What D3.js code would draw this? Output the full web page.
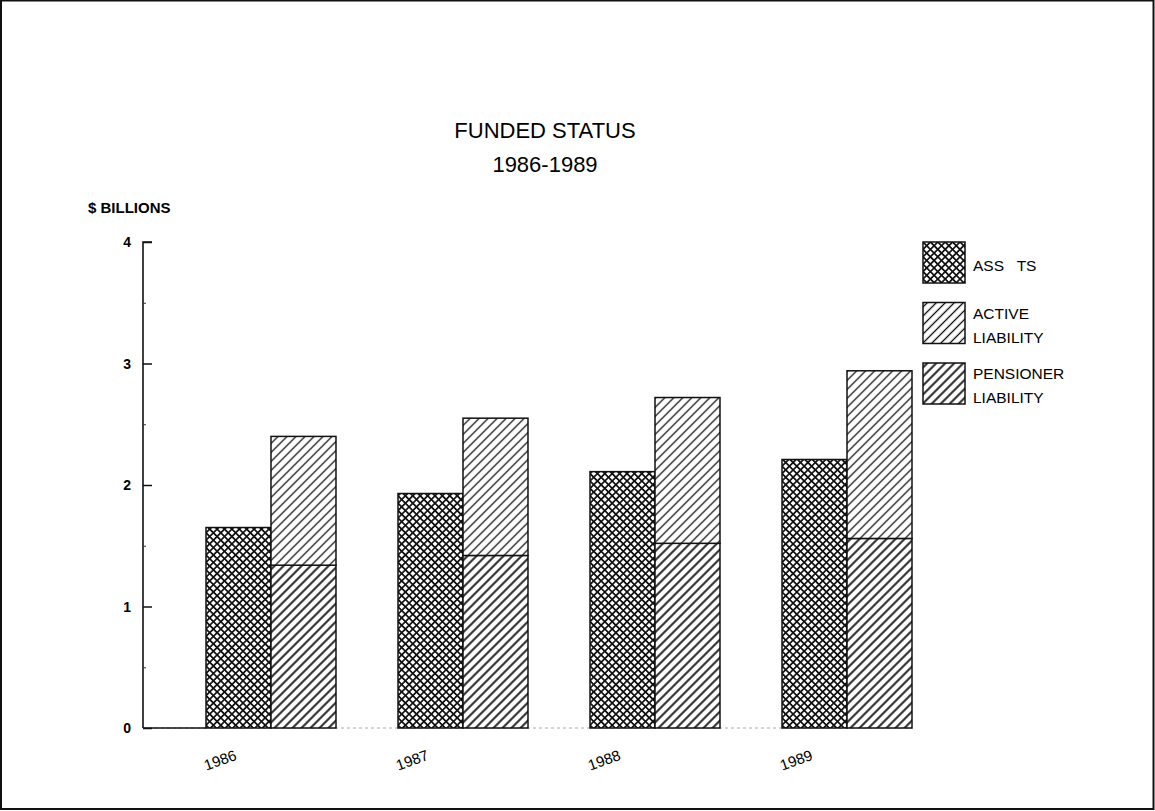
<!DOCTYPE html>
<html>
<head>
<meta charset="utf-8">
<script src="https://cdn.jsdelivr.net/npm/d3@7"></script>
<style>
  html, body { margin: 0; padding: 0; background: #fff; }
  svg { display: block; }
  text { font-family: "Liberation Sans", Arial, Helvetica, sans-serif; fill: #000; }
</style>
</head>
<body>
<svg id="chart" width="1155" height="811"></svg>
<script>
// ---- data ----
const years = ["1986", "1987", "1988", "1989"];
const assets = [1.65, 1.93, 2.11, 2.21];
const pensionerLiability = [1.34, 1.42, 1.52, 1.56];
const activeLiability = [1.06, 1.13, 1.20, 1.38];
const yTicks = [0, 1, 2, 3, 4];
const yMinorTicks = [0.5, 1.5, 2.5, 3.5];
const legendItems = [
  { key: "assets", lines: ["ASS   TS"] },
  { key: "active", lines: ["ACTIVE", "LIABILITY"] },
  { key: "pensioner", lines: ["PENSIONER", "LIABILITY"] }
];
const titleLines = ["FUNDED STATUS", "1986-1989"];
const yAxisTitle = "$ BILLIONS";

// ---- setup ----
const svg = d3.select("#chart");
const W = 1155, H = 811;

svg.append("rect").attr("x", 0).attr("y", 0).attr("width", W).attr("height", H).attr("fill", "#fff");
// frame
svg.append("rect").attr("x", 1).attr("y", 0.5).attr("width", W - 2.5).attr("height", H - 2.5)
  .attr("fill", "none").attr("stroke", "#111").attr("stroke-width", 2);

// patterns
const defs = svg.append("defs");
const crossS = 7.4 / Math.SQRT2;
const pc = defs.append("pattern").attr("id", "pat-assets").attr("patternUnits", "userSpaceOnUse")
  .attr("width", crossS).attr("height", crossS).attr("patternTransform", "rotate(45)");
pc.append("rect").attr("width", crossS).attr("height", crossS).attr("fill", "#fff");
pc.append("path").attr("d", `M0,0 H${crossS} M0,0 V${crossS} M0,${crossS} H${crossS} M${crossS},0 V${crossS}`)
  .attr("stroke", "#111").attr("stroke-width", 1.7);

function hatch(id, spacing, sw) {
  const s = spacing / Math.SQRT2;
  const p = defs.append("pattern").attr("id", id).attr("patternUnits", "userSpaceOnUse")
    .attr("width", s).attr("height", s).attr("patternTransform", "rotate(45)");
  p.append("rect").attr("width", s).attr("height", s).attr("fill", "#fff");
  p.append("path").attr("d", `M${s / 2},-1 V${s + 1}`).attr("stroke", "#111").attr("stroke-width", sw);
}
hatch("pat-active", 9, 1.3);
hatch("pat-pensioner", 9, 1.9);
const fills = { assets: "url(#pat-assets)", active: "url(#pat-active)", pensioner: "url(#pat-pensioner)" };

// scales
const y = d3.scaleLinear().domain([0, 4]).range([728, 242]);
const x = d3.scaleBand().domain(years).range([206, 912]).paddingInner(0.323).paddingOuter(0);
const sub = d3.scaleBand().domain(["assets", "liab"]).range([0, x.bandwidth()]).padding(0);
const axisX = 143;

// title
svg.append("g").selectAll("text").data(titleLines).join("text")
  .attr("x", 545).attr("y", (d, i) => 138 + i * 34)
  .attr("text-anchor", "middle").style("font-size", "22px")
  .text(d => d);

// y axis title
svg.append("text").attr("x", 88).attr("y", 213).style("font-size", "15px").style("font-weight", "bold")
  .text(yAxisTitle);

// baseline (faint across, solid before bars)
svg.append("line").attr("x1", axisX).attr("x2", x.range()[1]).attr("y1", y(0)).attr("y2", y(0))
  .attr("stroke", "#aaa").attr("stroke-width", 1).attr("stroke-dasharray", "3,3");
svg.append("line").attr("x1", axisX).attr("x2", x.range()[0]).attr("y1", y(0)).attr("y2", y(0))
  .attr("stroke", "#111").attr("stroke-width", 1.6);

// y axis
const yAxis = d3.axisRight(y).tickValues(yTicks).tickSize(9).tickFormat("");
const gy = svg.append("g").attr("transform", `translate(${axisX},0)`).call(yAxis);
gy.select(".domain").attr("stroke", "#111").attr("stroke-width", 1.6).attr("d", `M9,${y(4)}H0V${y(0)}`);
gy.selectAll(".tick line").attr("stroke", "#111").attr("stroke-width", 1.5);
const yMinor = d3.axisRight(y).tickValues(yMinorTicks).tickSize(3).tickFormat("");
const gym = svg.append("g").attr("transform", `translate(${axisX},0)`).call(yMinor);
gym.select(".domain").remove();
gym.selectAll(".tick line").attr("stroke", "#333").attr("stroke-width", 1);

svg.append("g").selectAll("text").data(yTicks).join("text")
  .attr("x", 131).attr("y", d => y(d)).attr("dy", "0.36em")
  .attr("text-anchor", "end").style("font-size", "14px").style("font-weight", "bold")
  .text(d => d);

// bars
const groups = svg.append("g").selectAll("g").data(years).join("g")
  .attr("transform", d => `translate(${x(d)},0)`);

groups.append("rect")
  .attr("x", sub("assets")).attr("width", sub.bandwidth())
  .attr("y", (d, i) => y(assets[i])).attr("height", (d, i) => y(0) - y(assets[i]))
  .attr("fill", fills.assets).attr("stroke", "#111").attr("stroke-width", 1.5);

groups.append("rect")
  .attr("x", sub("liab")).attr("width", sub.bandwidth())
  .attr("y", (d, i) => y(pensionerLiability[i])).attr("height", (d, i) => y(0) - y(pensionerLiability[i]))
  .attr("fill", fills.pensioner).attr("stroke", "#111").attr("stroke-width", 1.5);

groups.append("rect")
  .attr("x", sub("liab")).attr("width", sub.bandwidth())
  .attr("y", (d, i) => y(pensionerLiability[i] + activeLiability[i]))
  .attr("height", (d, i) => y(pensionerLiability[i]) - y(pensionerLiability[i] + activeLiability[i]))
  .attr("fill", fills.active).attr("stroke", "#111").attr("stroke-width", 1.5);

// year labels
groups.append("text")
  .attr("transform", `translate(16,765) rotate(-20)`)
  .attr("text-anchor", "middle").style("font-size", "15px")
  .text(d => d);

// legend
const lg = svg.append("g").attr("transform", "translate(923,242)");
const li = lg.selectAll("g").data(legendItems).join("g")
  .attr("transform", (d, i) => `translate(0,${i * 60.5})`);
li.append("rect").attr("width", 42).attr("height", 41)
  .attr("fill", d => fills[d.key]).attr("stroke", "#111").attr("stroke-width", 1.5);
li.each(function (d) {
  const g = d3.select(this);
  const n = d.lines.length;
  d.lines.forEach((t, j) => {
    g.append("text").attr("x", 50)
      .attr("y", n === 1 ? 29 : 16 + j * 24)
      .style("font-size", "15.5px").style("white-space", "pre")
      .text(t);
  });
});
</script>
</body>
</html>
